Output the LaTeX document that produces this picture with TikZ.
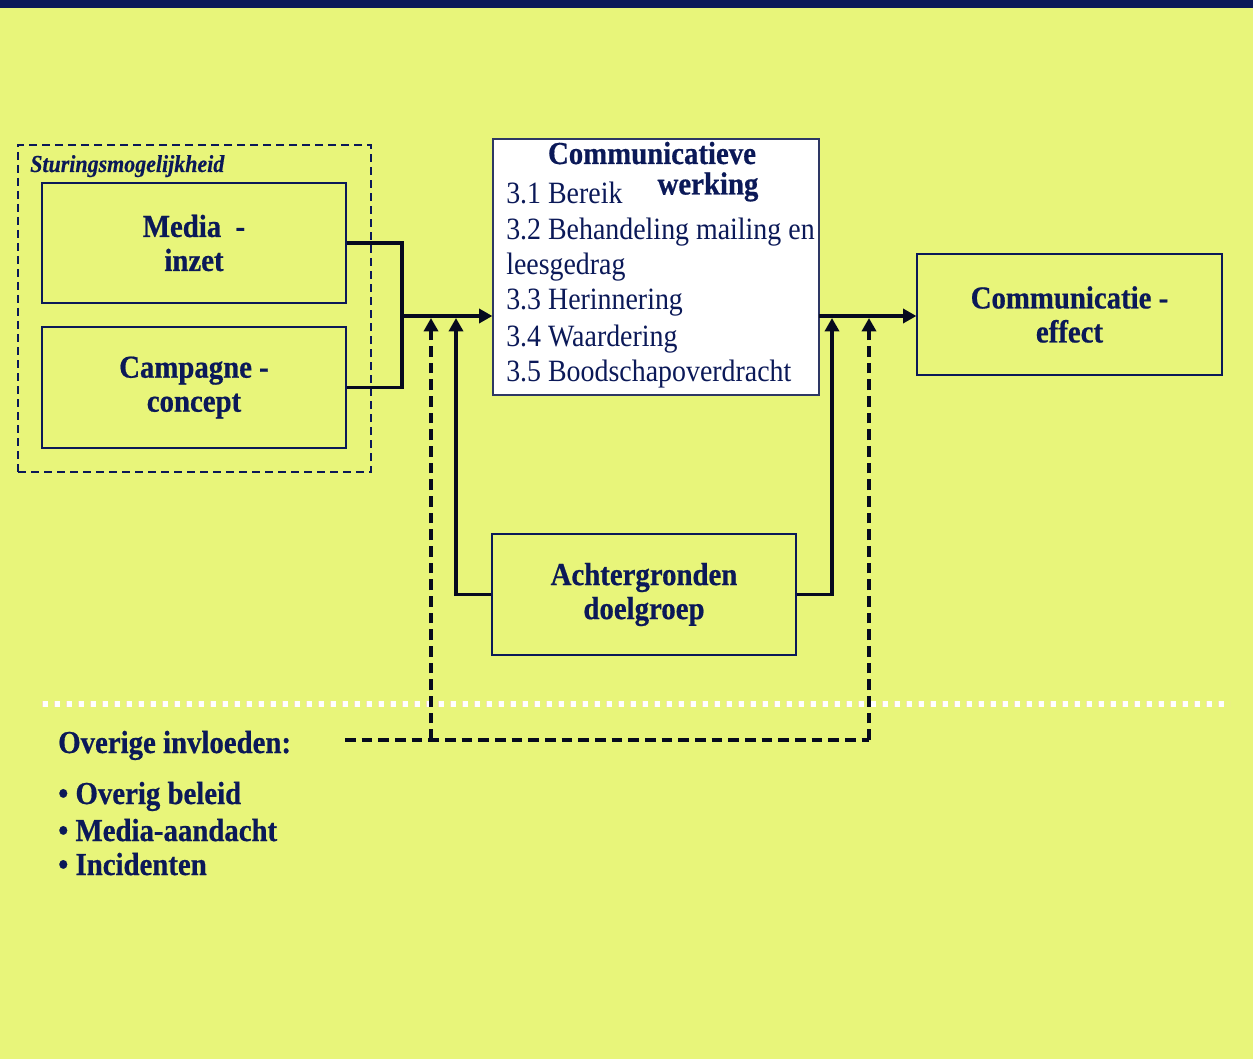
\documentclass[tikz,border=0pt]{standalone}
\usepackage{fontspec}
\setmainfont{Liberation Serif}[FakeStretch=0.9, BoldFeatures={FakeBold=0.6}, BoldItalicFeatures={FakeBold=0.4}]
\usetikzlibrary{arrows.meta}
\definecolor{bg}{HTML}{E8F57A}
\definecolor{navy}{HTML}{0B1958}
\definecolor{ink}{HTML}{060A1E}
\definecolor{peach}{HTML}{F6DDB8}
\begin{document}
\begin{tikzpicture}[x=0.75pt,y=-0.75pt,
  box/.style={draw=navy, line width=0.9pt, text=navy, align=center, inner sep=0pt,
    font=\bfseries\fontsize{24}{25.5}\selectfont},
  boldtxt/.style={text=navy, inner sep=0pt, font=\bfseries\fontsize{24}{25.5}\selectfont},
  regtxt/.style={text=navy, inner sep=0pt, font=\fontsize{23.25}{26}\selectfont},
  conn/.style={draw=ink, line width=2.7pt},
  tipped/.style={-{Triangle[length=10pt,width=10.5pt]}},
  dashc/.style={draw=ink, line width=2.7pt, dash pattern=on 8pt off 4.5pt}
]
\fill[bg] (0,0) rectangle (1253,1059);
\useasboundingbox (0,0) rectangle (1253,1059);
\fill[navy] (0,0) rectangle (1253,8);

% control frame
\node[draw=navy, line width=1.7pt, dash pattern=on 6pt off 3.75pt,
      minimum width=264.75pt, minimum height=245.25pt, inner sep=0pt] (frame) at (194.5,308.5) {};
\node[anchor=base west, text=navy, inner sep=0pt,
      font=\bfseries\itshape\fontsize{18.3}{20}\selectfont] (frlabel) at (30,172) {Sturingsmogelijkheid};

\node[box, minimum width=228pt, minimum height=90pt] (media) at (194,243) {Media~~-\\inzet};
\node[box, minimum width=228pt, minimum height=90.75pt] (camp) at (194,387.5) {Campagne -\\concept};

% communicatieve werking
\node[draw=navy!70!gray, line width=0.9pt, fill=white, minimum width=244.5pt,
      minimum height=192pt, inner sep=0pt] (cw) at (656,267) {};
\node[boldtxt, anchor=base] (cwt1) at (652,164) {Communicatieve};
\node[boldtxt, anchor=base] (cwt2) at (708,194.5) {werking};
\node[regtxt, anchor=base west] (i1) at (506,204) {3.1 Bereik};
\node[regtxt, anchor=base west] (i2) at (506,240) {3.2 Behandeling mailing en};
\node[regtxt, anchor=base west] (i2b) at (506,275) {leesgedrag};
\node[regtxt, anchor=base west] (i3) at (506,310) {3.3 Herinnering};
\node[regtxt, anchor=base west] (i4) at (506,346) {3.4 Waardering};
\node[regtxt, anchor=base west] (i5) at (506,381) {3.5 Boodschapoverdracht};

\node[box, minimum width=228.75pt, minimum height=90.75pt] (ce) at (1069.5,314.5) {Communicatie -\\effect};
\node[box, minimum width=228pt, minimum height=90.75pt] (ach) at (644,594.5) {Achtergronden\\doelgroep};

% connectors
\coordinate (j1) at (402,316);
\coordinate (j2) at (819,316);
\coordinate (u1) at (456,318);
\coordinate (u2) at (832,318);
\coordinate (d0) at (345,740);
\coordinate (d1) at (431,740);
\coordinate (d2) at (869,740);
\coordinate (du1) at (431,318);
\coordinate (du2) at (869,318);

\draw[conn] (media.east) -| (j1);
\draw[conn] (camp.east) -| (j1);
\draw[conn, tipped] (j1) -- (j1 -| cw.west);
\draw[conn, tipped] (j2) -- (j2 -| ce.west);
\draw[conn, tipped] (ach.west) -| (u1);
\draw[conn, tipped] (ach.east) -| (u2);

% separator
\coordinate (s1) at (42,704);
\coordinate (s2) at (1230,704);
\draw[peach, line width=4.8pt, dash pattern=on 4.8pt off 4.2pt] (s1) -- (s2);
\draw[white, line width=3.8pt, dash pattern=on 4pt off 5pt, dash phase=-0.4pt] (s1) -- (s2);

\draw[dashc] (d0) -- (d2);
\draw[dashc, tipped] (d1) -- (du1);
\draw[dashc, tipped] (d2) -- (du2);

% other influences
\node[boldtxt, anchor=base west] (ov) at (58,753) {Overige invloeden:};
\node[boldtxt, anchor=base west] (b1) at (58,804) {• Overig beleid};
\node[boldtxt, anchor=base west] (b2) at (58,841) {• Media-aandacht};
\node[boldtxt, anchor=base west] (b3) at (58,875) {• Incidenten};
\end{tikzpicture}
\end{document}
